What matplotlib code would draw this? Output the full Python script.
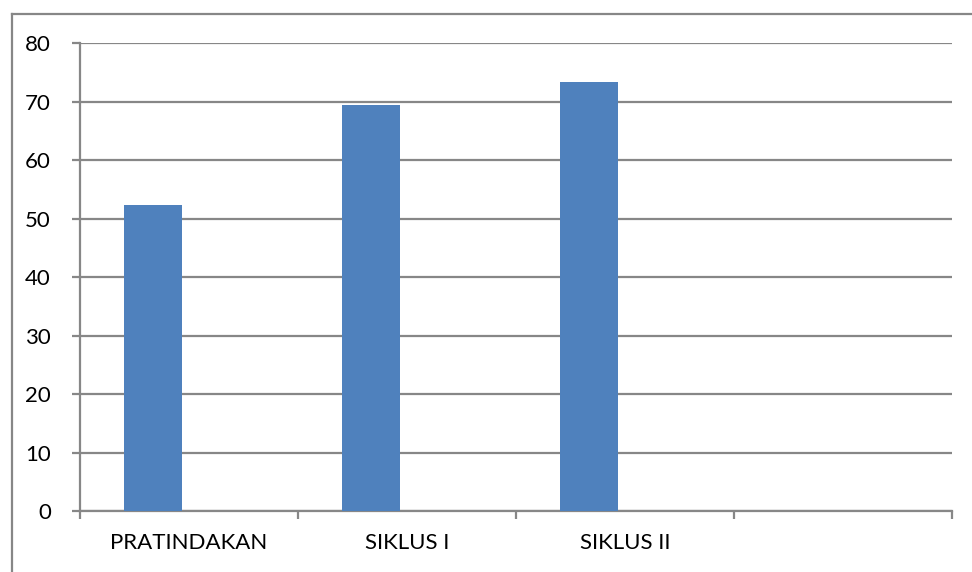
import matplotlib
matplotlib.use("Agg")
import matplotlib.pyplot as plt
from matplotlib.lines import Line2D

categories = ["PRATINDAKAN", "SIKLUS I", "SIKLUS II", ""]
values = [52.3, 69.4, 73.3]
yticks = [0, 10, 20, 30, 40, 50, 60, 70, 80]

plt.rcParams['font.family'] = ['Lato', 'DejaVu Sans']
grey = "#878787"
blue = "#4F81BD"

fig = plt.figure(figsize=(9.72, 5.72), dpi=100)
ax = fig.add_axes([80/972, 1-511/572, (952-80)/972, (511-43.3)/572])

xs = list(range(len(values)))
ax.bar([x - 0.166 for x in xs], values, width=0.265, color=blue, zorder=3)

ax.set_xlim(-0.5, len(categories) - 0.5)
ax.set_ylim(0, 80)
ax.set_yticks(yticks)
ax.set_yticklabels([str(t) for t in yticks], fontsize=16, color="#000000")
ax.yaxis.grid(True, color=grey, linewidth=1.6, zorder=0)
ax.set_axisbelow(True)

ax.set_xticks([i - 0.5 for i in range(len(categories) + 1)])
ax.set_xticklabels([])
ax.set_xticks(range(len(categories)), minor=True)
ax.set_xticklabels(categories, minor=True, fontsize=16, color="#000000")
ax.tick_params(axis='x', which='major', length=6, width=1.6, color=grey, direction='out')
ax.tick_params(axis='x', which='minor', length=0, pad=16)
ax.tick_params(axis='y', length=6, width=1.6, color=grey, direction='out', pad=15)

for s in ['top', 'right']:
    ax.spines[s].set_visible(False)
for s in ['left', 'bottom']:
    ax.spines[s].set_color(grey)
    ax.spines[s].set_linewidth(1.6)

# outer chart border (left and top edges visible)
fig.add_artist(Line2D([11.5/972, 11.5/972], [0, 1-14/572], transform=fig.transFigure, color=grey, linewidth=1.6))
fig.add_artist(Line2D([11.5/972, 1], [1-14/572, 1-14/572], transform=fig.transFigure, color=grey, linewidth=1.6))

fig.savefig("out.png", dpi=100)
